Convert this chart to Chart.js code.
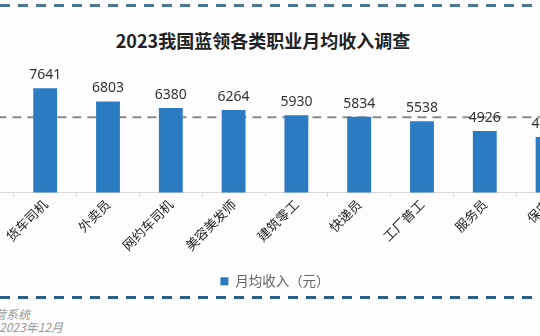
<!DOCTYPE html>
<html lang="zh">
  <head>
    <meta charset="UTF-8" />
    <title>2023我国蓝领各类职业月均收入调查</title>
    <script src="https://cdn.jsdelivr.net/npm/chart.js@4"></script>
    <style>
      body {
        margin: 0;
        width: 540px;
        height: 336px;
        overflow: hidden;
        background: #fdfdfd;
        position: relative;
        font-family: "Noto Sans CJK SC", sans-serif;
      }
      .dash {
        position: absolute;
        left: 0;
        width: 540px;
        height: 3px;
      }
      #dashTop {
        top: 4px;
        background: repeating-linear-gradient(to right, #4a7693 0 10px, transparent 10px 18px);
      }
      #dashBottom {
        top: 296px;
        background: repeating-linear-gradient(to right, #2c5f86 0 10px, transparent 10px 18px);
      }
      #title {
        position: absolute;
        left: 0;
        width: 526px;
        top: 27px;
        text-align: center;
        font-size: 18px;
        font-weight: bold;
        color: #222;
      }
      #wrap {
        position: absolute;
        left: -49px;
        top: 0;
      }
      .note {
        position: absolute;
        font-size: 12px;
        font-style: italic;
        color: #9a9a9a;
        white-space: nowrap;
      }
    </style>
  </head>
  <body>
    <div class="dash" id="dashTop"></div>
    <div id="title">2023我国蓝领各类职业月均收入调查</div>
    <div id="wrap"><canvas id="chart" width="648" height="298"></canvas></div>
    <div class="dash" id="dashBottom"></div>
    <div class="note" style="right: 510px; top: 305px">数据来源：平台运营系统</div>
    <div class="note" style="right: 477px; top: 318px">统计时间：2023年12月</div>

    <script>
      // first slot is the empty category that sits off the left edge
      const jobs = ["", "货车司机", "外卖员", "网约车司机", "美容美发师", "建筑零工", "快递员", "工厂普工", "服务员", "保安"];
      const income = [null, 7641, 6803, 6380, 6264, 5930, 5834, 5538, 4926, 4540];
      const avgIncome = 5800;

      const valueLabels = {
        id: "valueLabels",
        afterDatasetsDraw(chart) {
          const ctx = chart.ctx;
          const meta = chart.getDatasetMeta(0);
          ctx.save();
          ctx.font = "14px 'Noto Sans', sans-serif";
          ctx.fillStyle = "#333";
          ctx.textAlign = "center";
          ctx.textBaseline = "alphabetic";
          meta.data.forEach((bar, i) => {
            if (income[i] == null) return;
            ctx.fillText(income[i], bar.x, bar.y - 9);
          });
          ctx.restore();
        },
      };

      const chart = new Chart(document.getElementById("chart"), {
        type: "bar",
        data: {
          labels: jobs,
          datasets: [
            {
              label: "月均收入（元）",
              data: income,
              backgroundColor: "#2b7bc3",
              barPercentage: 0.76,
              categoryPercentage: 0.5,
              order: 1,
            },
            {
              type: "line",
              label: "平均",
              data: jobs.map(() => avgIncome),
              borderColor: "#8a8a8a",
              borderWidth: 2,
              borderDash: [9, 6],
              pointRadius: 0,
              fill: false,
              order: 2,
            },
          ],
        },
        options: {
          responsive: false,
          animation: false,
          devicePixelRatio: 1,
          layout: { padding: { top: 67, left: 0, right: 0, bottom: 0 } },
          plugins: {
            legend: {
              position: "bottom",
              labels: {
                filter: (item) => item.datasetIndex === 0,
                boxWidth: 8,
                boxHeight: 8,
                padding: 21,
                color: "#666",
                font: { size: 13.5, family: "'Noto Sans CJK SC'" },
              },
            },
            tooltip: { enabled: false },
          },
          scales: {
            y: {
              position: "right",
              min: 1000,
              max: 9000,
              grid: { display: false },
              border: { display: false },
              ticks: { display: false },
              afterFit: (s) => {
                s.width = 20;
              },
            },
            x: {
              grid: {
                drawOnChartArea: false,
                drawTicks: true,
                tickLength: 4,
                color: "#d9d9d9",
                offset: true,
              },
              border: { display: true, color: "#d9d9d9" },
              ticks: {
                minRotation: 45,
                maxRotation: 45,
                padding: 0,
                color: "#222",
                font: { size: 13, family: "'Noto Sans CJK SC'" },
              },
            },
          },
        },
        plugins: [valueLabels],
      });
    </script>
  </body>
</html>
